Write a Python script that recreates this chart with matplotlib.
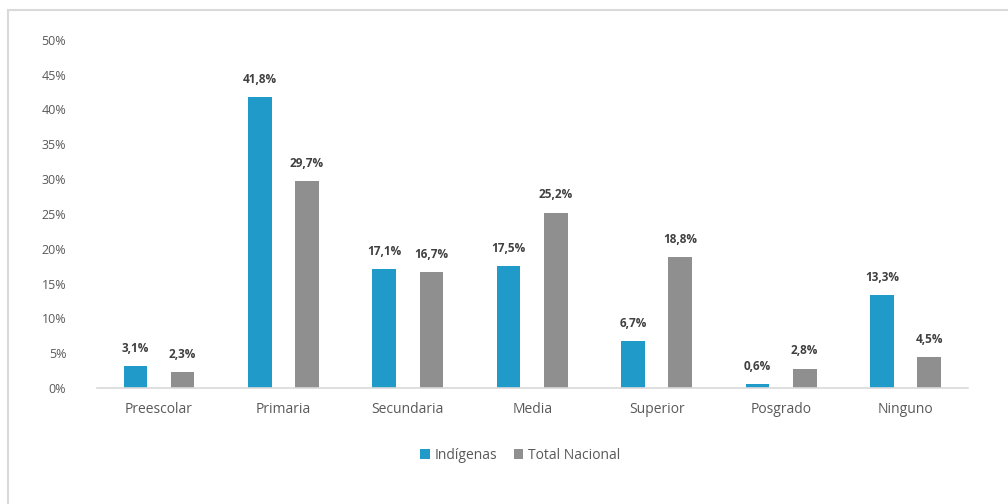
import matplotlib.pyplot as plt
import numpy as np
from matplotlib.patches import Rectangle

categories = ['Preescolar', 'Primaria', 'Secundaria', 'Media', 'Superior', 'Posgrado', 'Ninguno']
indigenas = [3.1, 41.8, 17.1, 17.5, 6.7, 0.6, 13.3]
total_nacional = [2.3, 29.7, 16.7, 25.2, 18.8, 2.8, 4.5]
y_ticks = [0, 5, 10, 15, 20, 25, 30, 35, 40, 45, 50]

plt.rcParams['font.family'] = ['Open Sans', 'DejaVu Sans']

fig = plt.figure(figsize=(10.08, 5.04), dpi=100)
ax = fig.add_axes([0.096, 0.230, 0.864, 0.691])

x = np.arange(len(categories))
w = 0.19
off = 0.19
blue = '#1f9ac9'
gray = '#8f8f8f'
b1 = ax.bar(x - off, indigenas, w, color=blue, label='Indígenas')
b2 = ax.bar(x + off, total_nacional, w, color=gray, label='Total Nacional')

def fmt(v):
    return f'{v:.1f}%'.replace('.', ',')

for bars, vals in ((b1, indigenas), (b2, total_nacional)):
    for b, v in zip(bars, vals):
        ax.text(b.get_x() + b.get_width() / 2, v + 1.6, fmt(v), ha='center', va='bottom',
                fontsize=8.5, fontweight='bold', color='#404040')

ax.set_xlim(-0.5, len(categories) - 0.5)
ax.set_ylim(0, 50)
ax.set_yticks(y_ticks)
ax.set_yticklabels([f'{t}%' for t in y_ticks], fontsize=9, color='#595959')
ax.set_xticks(x)
ax.set_xticklabels(categories, fontsize=10, color='#595959')
ax.tick_params(axis='both', length=0)
ax.tick_params(axis='y', pad=22)
ax.tick_params(axis='x', pad=10)
for s in ['top', 'right', 'left']:
    ax.spines[s].set_visible(False)
ax.spines['bottom'].set_color('#d9d9d9')
ax.spines['bottom'].set_linewidth(1.2)

fig.legend(handles=[b1, b2], loc='center', bbox_to_anchor=(0.516, 0.097), ncol=2,
           frameon=False, fontsize=10, handlelength=0.7, handleheight=0.7,
           handletextpad=0.3, columnspacing=1.2, labelcolor='#595959')

fig.patches.append(Rectangle((8 / 1008, -0.1), 1.2, 1 - 10 / 504 + 0.1,
                             transform=fig.transFigure, fill=False,
                             edgecolor='#d9d9d9', linewidth=1.5))

fig.savefig('out.png', dpi=100)
